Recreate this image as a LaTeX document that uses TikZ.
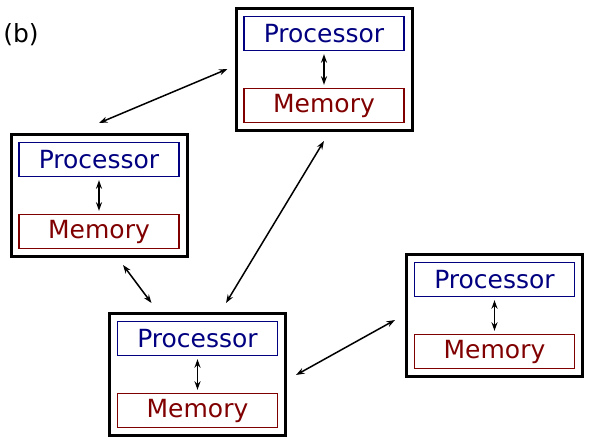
\documentclass[tikz,border=0pt]{standalone}
\usepackage{fontspec}
\setmainfont{DejaVu Sans}
\usetikzlibrary{arrows.meta,calc,positioning}
\definecolor{procblue}{RGB}{0,0,128}
\definecolor{memred}{RGB}{128,0,0}
\tikzset{
  unitbox/.style={draw,line width=3pt,minimum width=176pt,minimum height=122pt,inner sep=0pt},
  procbox/.style={draw=procblue,text=procblue,line width=1.4pt,minimum width=160pt,minimum height=34pt,inner sep=0pt},
  membox/.style={draw=memred,text=memred,line width=1.4pt,minimum width=160pt,minimum height=34pt,inner sep=0pt},
  link/.style={{Stealth[length=8.5pt,width=6pt]}-{Stealth[length=8.5pt,width=6pt]},line width=1.5pt},
}
\begin{document}
\begin{tikzpicture}[x=1pt,y=-1pt,font=\fontsize{25}{29}\selectfont]
\useasboundingbox (0,0) rectangle (592,444);
\node (lbl) at (21,35) {(b)};
%Knoten: Name/x/y (Mitte)
\foreach \n/\x/\y in {A/324/69.5,B/99/195.5,C/197.5/374.5,D/494.5/315.5}{
  \node[unitbox] (\n) at (\x,\y) {};
  \node[procbox] (\n p) at (\x,\y-36) {Processor};
  \node[membox] (\n m) at (\x,\y+36) {Memory};
  \draw[link,shorten <=3pt,shorten >=3pt] (\n p.south) -- (\n m.north);
}
\draw[link] ($(A.west)+(-7,-0.5)$) -- ($(B.north)+(0,-10)$);
\draw[link] ($(A.south)+(0,9)$) -- ($(C.north)+(28.5,-9)$);
\draw[link] ($(B.south)+(24,7)$) -- ($(C.north)+(-46,-9)$);
\draw[link] ($(C.east)+(9,0.5)$) -- ($(D.west)+(-10,4.5)$);
\end{tikzpicture}
\end{document}
